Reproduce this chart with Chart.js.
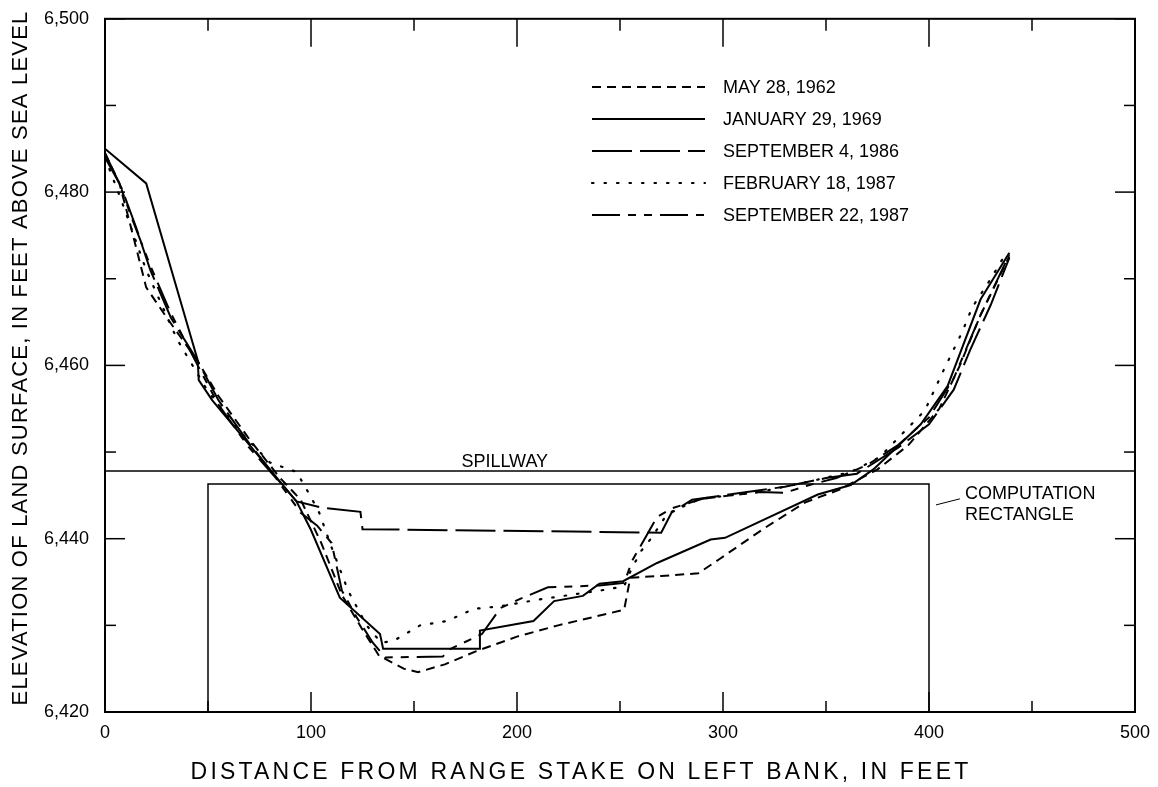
<!DOCTYPE html>
<html lang="en">
<head>
<meta charset="UTF-8">
<title>Range cross sections</title>
<script src="https://cdn.jsdelivr.net/npm/chart.js@4.4.0/dist/chart.umd.min.js"></script>
<style>
  body { margin: 0; background: #fff; }
  #wrap { width: 1158px; height: 787px; }
</style>
</head>
<body>
<div id="wrap"><canvas id="chart"></canvas></div>
<script>
// survey lines: distance from range stake (ft) and elevation (ft)
const may1962Dist = [0, 7, 12, 20, 30, 45, 55, 70, 85, 95, 105, 115, 125, 133, 145, 152, 165, 180, 200, 220, 252, 255, 270, 288, 298, 320, 340, 357, 375, 390, 405, 415, 425, 432, 439];
const may1962Elev = [6484.5, 6481, 6476.5, 6469, 6465.5, 6460.5, 6456.5, 6451.5, 6447, 6444.5, 6439.5, 6433.5, 6429.5, 6426.5, 6425, 6424.6, 6425.5, 6427, 6428.7, 6430, 6431.8, 6435.5, 6435.7, 6436, 6437.6, 6441.2, 6444.2, 6445.7, 6448, 6450.8, 6455, 6460, 6465.8, 6469.2, 6472.6];

const jan1969Dist = [0, 20, 45, 45.5, 52, 80, 93, 100, 114, 133.5, 135, 182, 182, 208, 218, 232, 240, 251.5, 268, 294, 301, 346, 362, 373, 396, 409, 425, 439];
const jan1969Elev = [6485, 6481, 6460.6, 6458.3, 6456, 6448, 6444.3, 6441, 6433.2, 6429, 6427.3, 6427.3, 6429.4, 6430.5, 6432.8, 6433.4, 6434.8, 6435.1, 6437.2, 6439.9, 6440.1, 6445.1, 6446.2, 6448, 6453.2, 6457.6, 6467.6, 6473];

const sep1986Dist = [0, 8, 15, 22, 32, 45, 55, 70, 85, 93, 105, 124, 125, 270, 275, 285, 300, 330, 350, 365, 385, 400, 412, 420, 430, 439];
const sep1986Elev = [6484.5, 6480.5, 6476, 6471, 6465.5, 6460.5, 6456, 6451, 6446.5, 6444.3, 6443.6, 6443.1, 6441.1, 6440.7, 6443, 6444.5, 6445, 6446, 6447, 6447.5, 6450.5, 6453.2, 6457.2, 6461.8, 6467, 6472.4];

const feb1987Dist = [0, 8, 20, 35, 50, 65, 80, 93, 100, 104, 110, 118, 127, 134, 140, 153, 166, 179, 192, 211, 240, 252, 255, 260, 265, 273, 289, 318, 342, 362, 376, 398, 407, 416, 421, 430, 438];
const feb1987Elev = [6484, 6479, 6471, 6463, 6457, 6452.5, 6448.8, 6447.7, 6444.8, 6443, 6439, 6434, 6430, 6428, 6428.2, 6430, 6430.5, 6431.9, 6432.2, 6433, 6434, 6434.5, 6436.2, 6438.5, 6440, 6442.9, 6444.6, 6445.4, 6446.6, 6447.7, 6449.4, 6454.8, 6459.4, 6463.8, 6466.7, 6470, 6473.2];

const sep1987Dist = [0, 7, 13, 22, 32, 45, 55, 70, 83, 95, 103, 110, 115, 122, 130, 136, 164, 167, 183, 192, 201, 215, 240, 252, 256, 262, 268, 275, 290, 318, 330, 342, 355, 370, 385, 400, 412, 425, 439];
const sep1987Elev = [6484, 6481, 6477, 6471.5, 6466, 6460, 6455.5, 6450.5, 6447, 6443, 6441.5, 6439.5, 6434, 6431, 6428, 6426.3, 6426.4, 6427.2, 6429, 6432, 6433, 6434.4, 6434.6, 6434.9, 6437.5, 6440, 6442.5, 6443.5, 6444.6, 6445.4, 6445.3, 6446.2, 6447, 6448.5, 6450.8, 6454, 6458.5, 6465.8, 6472.8];

const seriesNames = ['MAY 28, 1962', 'JANUARY 29, 1969', 'SEPTEMBER 4, 1986', 'FEBRUARY 18, 1987', 'SEPTEMBER 22, 1987'];

const spillwayElev = 6447.8;
const rectDist = [50, 50, 400, 400];
const rectElev = [6420, 6446.3, 6446.3, 6420];

const xTicks = [0, 100, 200, 300, 400, 500];
const yTicks = [6420, 6440, 6460, 6480, 6500];

const FONT = '"Liberation Sans", Arial, sans-serif';

function pts(xs, ys) {
  return xs.map((v, i) => ({ x: v, y: ys[i] }));
}

const dashes = [[9, 6], [], [40, 8], [1.5, 11], [28, 8, 8, 8, 8, 8]];
const lineData = [
  pts(may1962Dist, may1962Elev),
  pts(jan1969Dist, jan1969Elev),
  pts(sep1986Dist, sep1986Elev),
  pts(feb1987Dist, feb1987Elev),
  pts(sep1987Dist, sep1987Elev)
];

const datasets = lineData.map((d, i) => ({
  label: seriesNames[i],
  data: d,
  borderColor: '#000',
  borderWidth: i === 3 ? 2.2 : 2,
  borderDash: dashes[i],
  borderCapStyle: i === 3 ? 'round' : 'butt',
  pointRadius: 0,
  showLine: true,
  tension: 0
}));

datasets.push({
  label: 'spillway',
  data: [{ x: 0, y: spillwayElev }, { x: 500, y: spillwayElev }],
  borderColor: '#000', borderWidth: 1.5, pointRadius: 0, showLine: true
});
datasets.push({
  label: 'rectangle',
  data: pts(rectDist, rectElev),
  borderColor: '#000', borderWidth: 1.5, pointRadius: 0, showLine: true
});

const decor = {
  id: 'decor',
  afterDraw(chart) {
    const { ctx, chartArea: a, scales: { x, y } } = chart;
    ctx.save();
    ctx.strokeStyle = '#000';
    ctx.fillStyle = '#000';
    ctx.lineWidth = 2;
    ctx.setLineDash([]);
    ctx.strokeRect(a.left, a.top, a.right - a.left, a.bottom - a.top);

    function seg(x1, y1, x2, y2) {
      ctx.beginPath(); ctx.moveTo(x1, y1); ctx.lineTo(x2, y2); ctx.stroke();
    }
    // inward ticks on all four sides (top major ones run longer)
    ctx.lineWidth = 1.5;
    for (let v = 0; v <= 500; v += 50) {
      const px = x.getPixelForValue(v);
      const major = v % 100 === 0;
      seg(px, a.bottom, px, a.bottom - (major ? 20 : 11));
      seg(px, a.top, px, a.top + (major ? 28 : 12));
    }
    for (let v = 6420; v <= 6500; v += 10) {
      const py = y.getPixelForValue(v);
      const len = v % 20 === 0 ? 20 : 11;
      seg(a.left, py, a.left + len, py);
      seg(a.right, py, a.right - len, py);
    }

    // legend
    ctx.font = '18px ' + FONT;
    ctx.textBaseline = 'middle';
    ctx.textAlign = 'left';
    seriesNames.forEach((name, i) => {
      const ly = 87 + i * 32;
      ctx.lineWidth = i === 3 ? 2.2 : 2;
      ctx.lineCap = i === 3 ? 'round' : 'butt';
      ctx.setLineDash(dashes[i]);
      seg(592, ly, 705, ly);
      ctx.setLineDash([]);
      ctx.fillText(name, 723, ly + 1);
    });
    ctx.lineCap = 'butt';

    // spillway label
    ctx.textAlign = 'left';
    ctx.textBaseline = 'alphabetic';
    ctx.fillText('SPILLWAY', x.getPixelForValue(173), y.getPixelForValue(spillwayElev) - 4);

    // computation rectangle label with leader
    ctx.lineWidth = 1;
    seg(x.getPixelForValue(403.4), y.getPixelForValue(6443.9), x.getPixelForValue(415), y.getPixelForValue(6444.6));
    ctx.textBaseline = 'middle';
    ctx.fillText('COMPUTATION', x.getPixelForValue(417.5), y.getPixelForValue(6445.1));
    ctx.fillText('RECTANGLE', x.getPixelForValue(417.5), y.getPixelForValue(6442.7));

    // axis titles
    ctx.textAlign = 'center';
    ctx.font = '23px ' + FONT;
    ctx.letterSpacing = '3.2px';
    ctx.fillText('DISTANCE FROM RANGE STAKE ON LEFT BANK, IN FEET', 581, 773);
    ctx.font = '22px ' + FONT;
    ctx.letterSpacing = '1.2px';
    ctx.translate(21, 358);
    ctx.rotate(-Math.PI / 2);
    ctx.fillText('ELEVATION OF LAND SURFACE, IN FEET ABOVE SEA LEVEL', 0, 0);
    ctx.restore();
  }
};

new Chart(document.getElementById('chart'), {
  type: 'scatter',
  data: { datasets: datasets },
  plugins: [decor],
  options: {
    responsive: true,
    maintainAspectRatio: false,
    animation: false,
    layout: { padding: { top: 13, right: 23, left: 0, bottom: 0 } },
    plugins: { legend: { display: false }, tooltip: { enabled: false } },
    scales: {
      x: {
        type: 'linear', min: 0, max: 500,
        afterFit: s => { s.height = 75; },
        afterBuildTicks: s => { s.ticks = xTicks.map(v => ({ value: v })); },
        grid: { display: false },
        border: { display: false },
        ticks: { color: '#000', font: { family: FONT, size: 18 }, padding: 2, maxRotation: 0 }
      },
      y: {
        type: 'linear', min: 6420, max: 6500,
        afterFit: s => { s.width = 105; },
        afterBuildTicks: s => { s.ticks = yTicks.map(v => ({ value: v })); },
        grid: { display: false },
        border: { display: false },
        ticks: { color: '#000', font: { family: FONT, size: 18 }, padding: 8,
          callback: v => v.toLocaleString('en-US') }
      }
    }
  }
});
</script>
</body>
</html>
